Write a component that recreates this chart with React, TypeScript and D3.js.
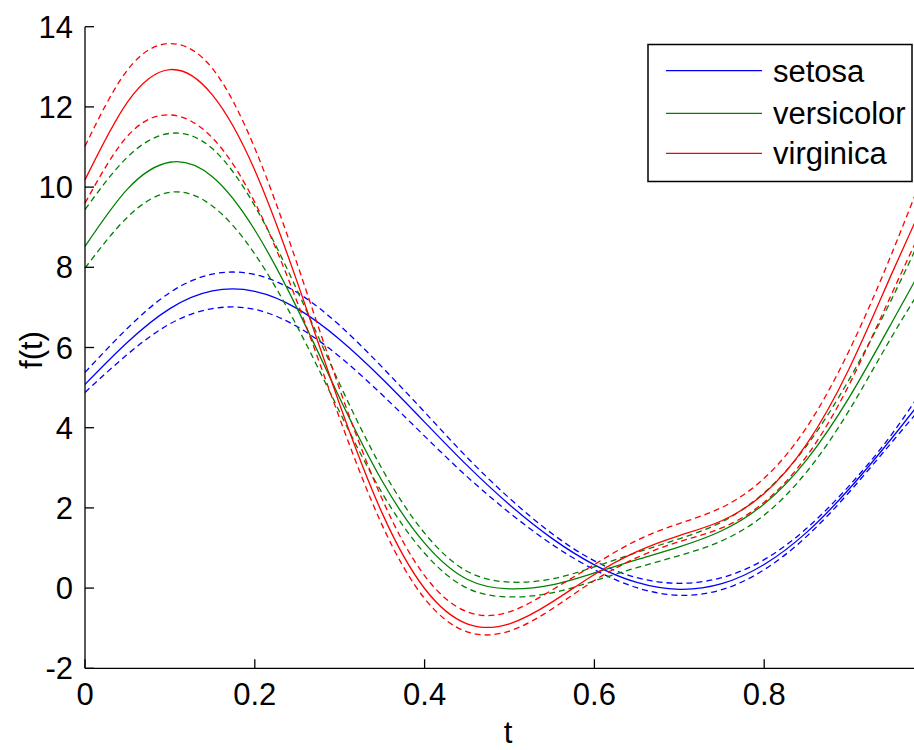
import React from "react";
import * as d3 from "d3";

const tValues = [0, 0.05, 0.1, 0.15, 0.2, 0.25, 0.3, 0.35, 0.4, 0.45, 0.5, 0.55, 0.6, 0.65, 0.7, 0.75, 0.8, 0.85, 0.9, 0.95, 1.0];

const setosaMedian = [5.08, 6.13, 6.97, 7.41, 7.4, 6.97, 6.2, 5.22, 4.14, 3.06, 2.08, 1.24, 0.58, 0.14, -0.03, 0.11, 0.59, 1.39, 2.47, 3.73, 5.08];
const setosaUpper = [5.38, 6.48, 7.37, 7.83, 7.82, 7.37, 6.55, 5.51, 4.39, 3.26, 2.24, 1.36, 0.68, 0.26, 0.12, 0.26, 0.71, 1.49, 2.55, 3.83, 5.38];
const setosaLower = [4.88, 5.83, 6.59, 6.97, 6.95, 6.52, 5.77, 4.82, 3.79, 2.78, 1.88, 1.09, 0.46, 0.01, -0.18, -0.04, 0.46, 1.29, 2.39, 3.63, 4.88];

const versicolorMedian = [8.52, 9.95, 10.62, 10.26, 8.93, 6.97, 4.74, 2.67, 1.12, 0.22, -0.02, 0.08, 0.38, 0.71, 1.03, 1.43, 2.1, 3.2, 4.75, 6.61, 8.52];
const versicolorUpper = [9.44, 10.75, 11.34, 10.96, 9.53, 7.42, 5.09, 2.97, 1.37, 0.42, 0.15, 0.23, 0.53, 0.89, 1.23, 1.65, 2.38, 3.55, 5.2, 7.2, 9.44];
const versicolorLower = [7.98, 9.25, 9.87, 9.53, 8.33, 6.52, 4.39, 2.37, 0.87, 0.0, -0.22, -0.12, 0.18, 0.51, 0.81, 1.18, 1.82, 2.9, 4.43, 6.26, 7.98];

const virginicaMedian = [10.18, 12.12, 12.93, 12.3, 10.42, 7.63, 4.58, 1.87, -0.01, -0.89, -0.89, -0.35, 0.34, 0.91, 1.31, 1.68, 2.36, 3.59, 5.47, 7.83, 10.18];
const virginicaUpper = [11.02, 12.92, 13.58, 12.96, 10.97, 8.08, 4.96, 2.22, 0.31, -0.59, -0.59, -0.05, 0.59, 1.19, 1.61, 2.01, 2.74, 4.01, 5.92, 8.33, 11.02];
const virginicaLower = [9.6, 11.27, 11.8, 11.23, 9.62, 7.13, 4.23, 1.57, -0.26, -1.09, -1.07, -0.52, 0.19, 0.76, 1.16, 1.5, 2.14, 3.29, 5.07, 7.33, 9.6];

const speciesNames = ["setosa", "versicolor", "virginica"];
const speciesColors = ["#0000ff", "#008000", "#ff0000"];

const xTicks = [0, 0.2, 0.4, 0.6, 0.8];
const yTicks = [-2, 0, 2, 4, 6, 8, 10, 12, 14];

const groups = [
  { median: setosaMedian, upper: setosaUpper, lower: setosaLower },
  { median: versicolorMedian, upper: versicolorUpper, lower: versicolorLower },
  { median: virginicaMedian, upper: virginicaUpper, lower: virginicaLower },
];

export default function App() {
  const W = 914;
  const H = 750;
  const x = d3.scaleLinear().domain([0, 1]).range([85, 934]);
  const y = d3.scaleLinear().domain([-2, 14]).range([668.3, 26.7]);
  const line = d3
    .line<number>()
    .x((_, i) => x(tValues[i]))
    .y((d) => y(d))
    .curve(d3.curveNatural);

  const font = "'Liberation Sans', Arial, sans-serif";
  const fs = 31;

  return (
    <svg width={W} height={H} style={{ position: "absolute", left: 0, top: 0, background: "#fff" }}>
      <rect x={0} y={0} width={W} height={H} fill="#fff" />
      {groups.map((g, gi) => (
        <g key={gi}>
          <path d={line(g.upper) || ""} fill="none" stroke={speciesColors[gi]} strokeWidth={1.3} strokeDasharray="6,4" />
          <path d={line(g.lower) || ""} fill="none" stroke={speciesColors[gi]} strokeWidth={1.3} strokeDasharray="6,4" />
          <path d={line(g.median) || ""} fill="none" stroke={speciesColors[gi]} strokeWidth={1.3} />
        </g>
      ))}
      {/* axes */}
      <line x1={x(0)} x2={W} y1={y(-2)} y2={y(-2)} stroke="#000" strokeWidth={1.3} />
      <line x1={x(0)} x2={x(0)} y1={y(-2)} y2={y(14)} stroke="#000" strokeWidth={1.3} />
      {xTicks.map((t) => (
        <g key={"x" + t}>
          <line x1={x(t)} x2={x(t)} y1={y(-2)} y2={y(-2) - 9} stroke="#000" strokeWidth={1.3} />
          <text x={x(t)} y={705} textAnchor="middle" fontFamily={font} fontSize={fs} fill="#000">
            {String(t)}
          </text>
        </g>
      ))}
      {yTicks.map((v) => (
        <g key={"y" + v}>
          <line x1={x(0)} x2={x(0) + 9} y1={y(v)} y2={y(v)} stroke="#000" strokeWidth={1.3} />
          <text x={73} y={y(v) + 11} textAnchor="end" fontFamily={font} fontSize={fs} fill="#000">
            {String(v)}
          </text>
        </g>
      ))}
      <text x={508} y={743} textAnchor="middle" fontFamily={font} fontSize={fs} fill="#000">
        t
      </text>
      <text
        transform={`translate(42,350) rotate(-90)`}
        textAnchor="middle"
        fontFamily={font}
        fontSize={fs}
        fill="#000"
      >
        f(t)
      </text>
      {/* legend */}
      <rect x={648} y={44.5} width={264} height={137} fill="#fff" stroke="#000" strokeWidth={1.5} />
      {speciesNames.map((n, i) => {
        const ly = [70.7, 113.3, 153.3][i];
        return (
          <g key={n}>
            <line x1={666} x2={762} y1={ly} y2={ly} stroke={speciesColors[i]} strokeWidth={1.3} />
            <text x={773} y={ly + 11} fontFamily={font} fontSize={fs} fill="#000">
              {n}
            </text>
          </g>
        );
      })}
    </svg>
  );
}
